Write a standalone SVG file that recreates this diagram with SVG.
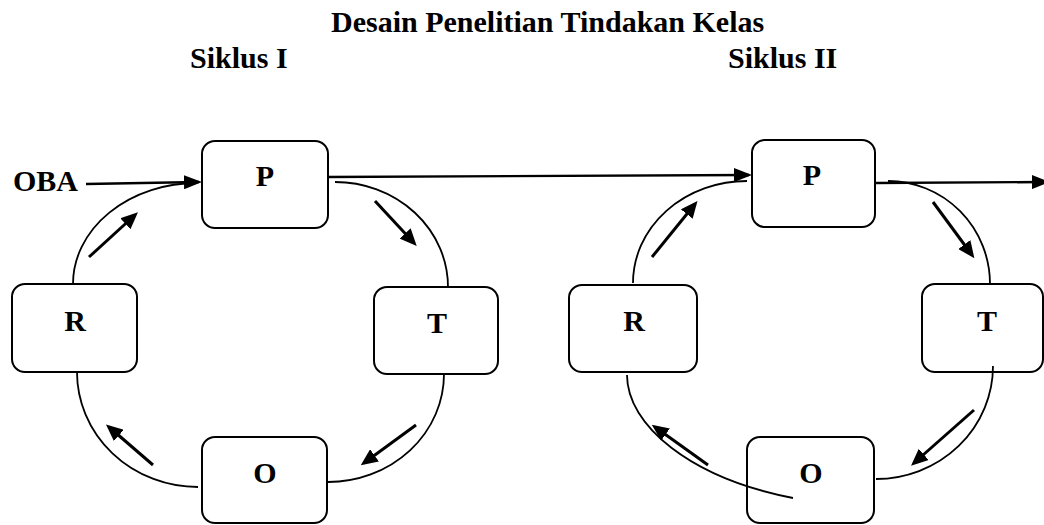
<svg xmlns="http://www.w3.org/2000/svg" width="1044" height="525" viewBox="0 0 1044 525">
  <style>
    text { font-family: "Liberation Serif", "Times New Roman", serif; font-weight: bold; fill: #000; }
    .title { font-size: 30px; }
    .lbl { font-size: 30px; text-anchor: middle; }
    .box { fill: #fff; stroke: #000; stroke-width: 2; }
    .arc { fill: none; stroke: #000; stroke-width: 1.8; }
    .main { fill: none; stroke: #000; stroke-width: 2.4; marker-end: url(#headL); }
    .small { fill: none; stroke: #000; stroke-width: 3; marker-end: url(#headS); }
  </style>
  <defs>
    <marker id="headL" markerUnits="userSpaceOnUse" markerWidth="18" markerHeight="14" refX="15" refY="7" orient="auto">
      <path d="M0,0 L18,7 L0,14 z" fill="#000"/>
    </marker>
    <marker id="headS" markerUnits="userSpaceOnUse" markerWidth="17" markerHeight="15" refX="13" refY="7.5" orient="auto">
      <path d="M0,0 L17,7.5 L0,15 z" fill="#000"/>
    </marker>
  </defs>

  <text class="title" x="331" y="32">Desain Penelitian Tindakan Kelas</text>
  <text class="title" x="190" y="68">Siklus I</text>
  <text class="title" x="728" y="68">Siklus II</text>
  <text id="oba" class="title" x="13" y="191">OBA</text>

  <g id="P1"><rect class="box" x="202" y="141" width="126" height="87" rx="13"/><text class="lbl" x="265" y="186">P</text></g>
  <g id="T1"><rect class="box" x="374" y="287" width="124" height="87" rx="13"/><text class="lbl" x="437" y="333">T</text></g>
  <g id="O1"><rect class="box" x="202" y="437" width="125" height="86" rx="13"/><text class="lbl" x="265" y="483">O</text></g>
  <g id="R1"><rect class="box" x="12" y="284" width="125" height="88" rx="13"/><text class="lbl" x="75" y="331">R</text></g>

  <g id="P2"><rect class="box" x="752" y="140" width="123" height="87" rx="13"/><text class="lbl" x="812" y="185">P</text></g>
  <g id="T2"><rect class="box" x="922" y="284" width="121" height="88" rx="13"/><text class="lbl" x="987" y="331">T</text></g>
  <g id="O2"><rect class="box" x="747" y="437" width="127" height="86" rx="13"/><text class="lbl" x="811" y="483">O</text></g>
  <g id="R2"><rect class="box" x="569" y="285" width="128" height="87" rx="13"/><text class="lbl" x="634" y="331">R</text></g>

  <g id="connectors">
    <path class="main" d="M86,184 L199,182"/>
    <path class="main" d="M327,177 L749,175"/>
    <path class="main" d="M875,183 L1047,182"/>

    <path class="arc" d="M335,182 A113,105 0 0 1 448,287"/>
    <path class="arc" d="M444,374 A116,108 0 0 1 328,482"/>
    <path class="arc" d="M198,487 A121,115 0 0 1 77,372"/>
    <path class="arc" d="M73,284 A124,101 0 0 1 197,183"/>

    <path class="small" d="M375,201 L414,243"/>
    <path class="small" d="M416,425 L364,463"/>
    <path class="small" d="M153,465 L109,427"/>
    <path class="small" d="M89,257 L135,215"/>

    <path class="arc" d="M633,283 A114,102 0 0 1 747,181"/>
    <path class="arc" d="M888,181 A102,103 0 0 1 990,284"/>
    <path class="arc" d="M993,366 A117,113 0 0 1 876,479"/>
    <path class="arc" d="M793,498 C690,478 627,425 627,375"/>

    <path class="small" d="M652,257 L695,204"/>
    <path class="small" d="M933,202 L972,255"/>
    <path class="small" d="M974,410 L914,463"/>
    <path class="small" d="M708,465 L655,427"/>
  </g>
</svg>
